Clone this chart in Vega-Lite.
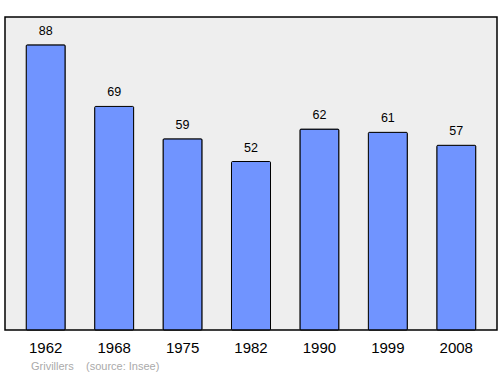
{
  "$schema": "https://vega.github.io/schema/vega-lite/v6.json",
  "width": 492,
  "height": 313,
  "autosize": {"type": "none"},
  "padding": {"left": 5, "top": 17, "right": 3, "bottom": 44},
  "background": "white",
  "view": {"fill": "#eeeeee", "stroke": "black", "strokeWidth": 1.5},
  "config": {"font": "Liberation Sans"},
  "title": {
    "text": "Grivillers\u00a0\u00a0\u00a0\u00a0(source: Insee)",
    "orient": "bottom",
    "anchor": "start",
    "offset": 6,
    "dx": 26,
    "fontSize": 11,
    "fontWeight": "normal",
    "color": "#aaaaaa",
    "font": "Liberation Sans"
  },
  "data": {
    "values": [
      {"year": "1962", "pop": 88},
      {"year": "1968", "pop": 69},
      {"year": "1975", "pop": 59},
      {"year": "1982", "pop": 52},
      {"year": "1990", "pop": 62},
      {"year": "1999", "pop": 61},
      {"year": "2008", "pop": 57}
    ]
  },
  "encoding": {
    "x": {
      "field": "year",
      "type": "nominal",
      "sort": null,
      "scale": {"paddingInner": 0.43, "paddingOuter": 0.31},
      "axis": {
        "title": null,
        "labelAngle": 0,
        "ticks": false,
        "domain": false,
        "labelFontSize": 15,
        "labelColor": "black",
        "labelPadding": 10
      }
    },
    "y": {
      "field": "pop",
      "type": "quantitative",
      "scale": {"domain": [0, 96.6], "nice": false},
      "axis": null
    }
  },
  "layer": [
    {
      "mark": {"type": "bar", "fill": "#7094ff", "stroke": "black", "strokeWidth": 1, "cornerRadius": 1}
    },
    {
      "mark": {"type": "text", "baseline": "bottom", "dy": -7, "fontSize": 12.5, "color": "black"},
      "encoding": {"text": {"field": "pop", "type": "quantitative"}}
    }
  ]
}
